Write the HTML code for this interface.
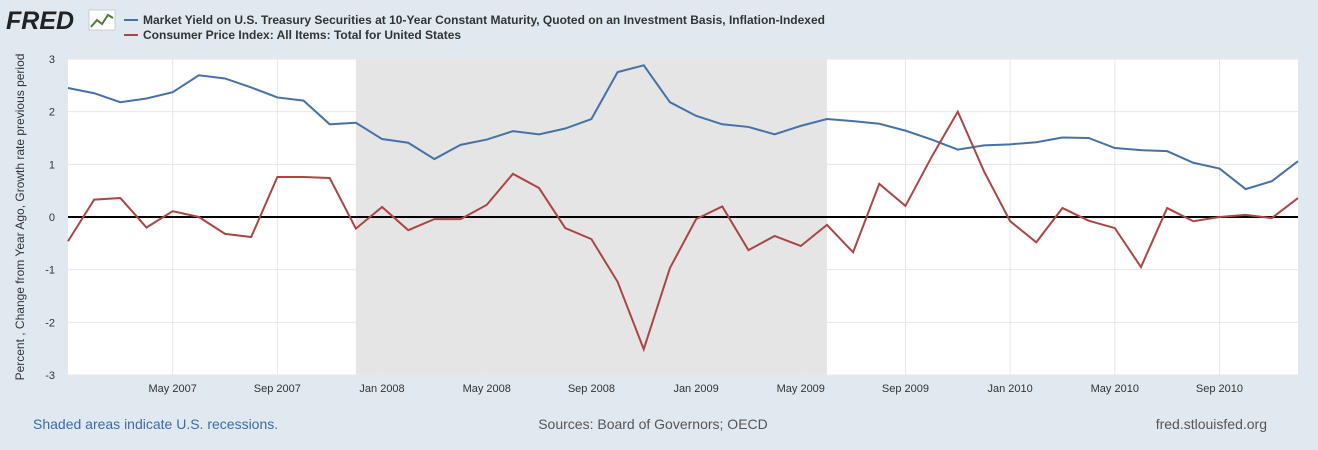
<!DOCTYPE html>
<html><head><meta charset="utf-8"><style>
body{margin:0;width:1318px;height:450px;background:#e1e9f0;font-family:"Liberation Sans",sans-serif;overflow:hidden}
svg{display:block}
</style></head><body>
<svg id="chart" width="1318" height="450">
<rect x="0" y="0" width="1318" height="450" fill="#e1e9f0"/>
<g>
<text x="6" y="29" font-size="25" font-weight="bold" fill="#222" font-style="italic">FRED</text>
<rect x="89" y="10" width="26" height="20" fill="#fff" stroke="#ccc"/>
<polyline points="91,27 97,20 102,24 108,15 113,18" fill="none" stroke="#4a7f3a" stroke-width="2"/>
</g>
<g>
<line x1="124" y1="20" x2="138" y2="20" stroke="#4572a7" stroke-width="2"/>
<text x="143" y="24" font-size="12" font-weight="bold" fill="#333">Market Yield on U.S. Treasury Securities at 10-Year Constant Maturity, Quoted on an Investment Basis, Inflation-Indexed</text>
<line x1="124" y1="35" x2="138" y2="35" stroke="#aa4643" stroke-width="2"/>
<text x="143" y="39" font-size="12" font-weight="bold" fill="#333">Consumer Price Index: All Items: Total for United States</text>
</g>
<rect x="68" y="59" width="1230" height="316" fill="#fff"/>
<g id="grid"></g>
<g id="marks"></g>
<text transform="translate(24,217) rotate(-90)" text-anchor="middle" font-size="12" fill="#333">Percent , Change from Year Ago, Growth rate previous period</text>
<text x="33" y="429" font-size="14" fill="#3c6aa8">Shaded areas indicate U.S. recessions.</text>
<text x="653" y="429" font-size="14" fill="#555" text-anchor="middle">Sources: Board of Governors; OECD</text>
<text x="1267" y="429" font-size="14" fill="#555" text-anchor="end">fred.stlouisfed.org</text>
</svg>
<script>
const tips=[2.45,2.35,2.18,2.25,2.37,2.69,2.63,2.46,2.27,2.21,1.76,1.79,1.48,1.41,1.10,1.37,1.47,1.63,1.57,1.68,1.86,2.75,2.88,2.18,1.92,1.76,1.71,1.57,1.73,1.86,1.82,1.77,1.64,1.47,1.28,1.36,1.38,1.42,1.51,1.50,1.31,1.27,1.25,1.03,0.92,0.53,0.68,1.06];
const cpi=[-0.46,0.33,0.36,-0.20,0.11,0.0,-0.32,-0.38,0.76,0.76,0.74,-0.22,0.19,-0.25,-0.04,-0.04,0.23,0.82,0.55,-0.21,-0.42,-1.23,-2.51,-0.97,-0.04,0.20,-0.63,-0.36,-0.55,-0.15,-0.67,0.63,0.21,1.14,2.00,0.87,-0.08,-0.48,0.17,-0.07,-0.21,-0.95,0.17,-0.08,0.0,0.04,-0.02,0.36];
const yTicks=[3,2,1,0,-1,-2,-3];
const xTickIdx=[4,8,12,16,20,24,28,32,36,40,44];
const xTickLabels=["May 2007","Sep 2007","Jan 2008","May 2008","Sep 2008","Jan 2009","May 2009","Sep 2009","Jan 2010","May 2010","Sep 2010"];
const recession=[11,29];
const ns="http://www.w3.org/2000/svg";
const X=i=>68+i*(1230/47);
const Y=v=>217-v*52.67;
function mk(p,t,a){const e=document.createElementNS(ns,t);for(const k in a)e.setAttribute(k,a[k]);p.appendChild(e);return e;}
const grid=document.getElementById('grid'),marks=document.getElementById('marks');
const rec=mk(grid,'rect',{x:X(recession[0]),y:59,width:X(recession[1])-X(recession[0]),height:316,fill:'#e5e5e5'});


yTicks.forEach(v=>{
 const l=mk(grid,'line',{x1:68,x2:1298,y1:Y(v),y2:Y(v),stroke:'#e6e6e6'});
 
 
 const t=mk(grid,'text',{x:55,y:Y(v)+4,'font-size':11,fill:'#333','text-anchor':'end'});t.textContent=v;
 
 
});
xTickIdx.forEach((i,k)=>{
 const l=mk(grid,'line',{x1:X(i),x2:X(i),y1:59,y2:375,stroke:'#e6e6e6'});
 
 
 const t=mk(grid,'text',{x:X(i),y:392,'font-size':11,fill:'#333','text-anchor':'middle'});t.textContent=xTickLabels[k];
 
 
});
const z=mk(marks,'line',{x1:68,x2:1298,y1:Y(0),y2:Y(0),stroke:'#000','stroke-width':2});


const l1=mk(marks,'polyline',{points:tips.map((v,i)=>X(i)+','+Y(v)).join(' '),fill:'none',stroke:'#4572a7','stroke-width':2});


const l2=mk(marks,'polyline',{points:cpi.map((v,i)=>X(i)+','+Y(v)).join(' '),fill:'none',stroke:'#aa4643','stroke-width':2});


</script>
</body></html>
